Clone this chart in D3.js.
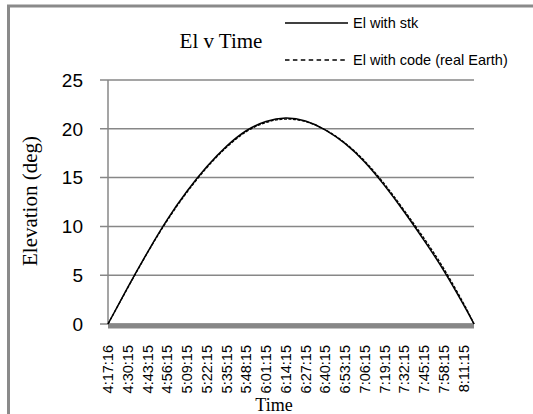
<!DOCTYPE html>
<html>
<head>
<meta charset="utf-8">
<script src="https://cdn.jsdelivr.net/npm/d3@7"></script>
<style>
  html, body { margin: 0; padding: 0; background: #fff; }
  svg { display: block; }
</style>
</head>
<body>
<svg id="chart" width="533" height="414"></svg>
<script>
// category labels shown on the time axis (every 13th sample)
const tickLabels = ['4:17:16','4:30:15','4:43:15','4:56:15','5:09:15','5:22:15','5:35:15','5:48:15',
  '6:01:15','6:14:15','6:27:15','6:40:15','6:53:15','7:06:15','7:19:15','7:32:15','7:45:15','7:58:15','8:11:15'];
// sample times (minutes after 4:17:16)
const sampleMin = [0, 13, 26, 39, 52, 65, 78, 91, 104, 117, 130, 143, 156, 169, 182, 195, 208, 221, 234, 241];
const elStk  = [0, 3.75, 7.35, 10.7, 13.6, 16.1, 18.2, 19.8, 20.75, 21.1, 20.8, 19.9, 18.5, 16.6, 14.2, 11.5, 8.6, 5.5, 2.0, 0];
const elCode = [0, 3.7, 7.3, 10.6, 13.5, 16.0, 18.1, 19.7, 20.65, 21.0, 20.75, 19.9, 18.55, 16.7, 14.35, 11.65, 8.8, 5.7, 2.15, 0];
const yTicks = [0, 5, 10, 15, 20, 25];
const nSamples = 242;

const svg = d3.select('#chart');
const margin = { left: 108, right: 59, top: 80, bottom: 90 };
const W = 533, H = 414;

// outer chart frame (runs off the right and bottom edge)
svg.append('rect').attr('x', 8.5).attr('y', 6).attr('width', 540).attr('height', 420)
  .attr('fill', 'none').attr('stroke', '#8a8a8a').attr('stroke-width', 3);

const x = d3.scaleLinear().domain([0, nSamples - 1]).range([margin.left, W - margin.right]);
const y = d3.scaleLinear().domain([0, 25]).range([H - margin.bottom, margin.top]);

// gridlines + y ticks
svg.append('g').selectAll('line').data(yTicks).join('line')
  .attr('x1', margin.left - 8).attr('x2', W - margin.right)
  .attr('y1', d => y(d)).attr('y2', d => y(d))
  .attr('stroke', '#878787').attr('stroke-width', 1.5);

// y axis line
svg.append('line').attr('x1', margin.left).attr('x2', margin.left)
  .attr('y1', y(25)).attr('y2', y(0))
  .attr('stroke', '#878787').attr('stroke-width', 1.5);

svg.append('g').selectAll('text').data(yTicks).join('text')
  .attr('x', 83).attr('y', d => y(d)).attr('dy', '0.36em')
  .attr('text-anchor', 'end')
  .style('font-family', 'Liberation Sans, Arial, sans-serif').style('font-size', '19px')
  .attr('fill', '#000').text(d => d);

// thick horizontal axis band
svg.append('line').attr('x1', margin.left).attr('x2', W - margin.right)
  .attr('y1', y(0) + 2).attr('y2', y(0) + 2)
  .attr('stroke', '#878787').attr('stroke-width', 5);

// x tick labels (rotated)
svg.append('g').selectAll('text').data(tickLabels).join('text')
  .attr('transform', (d, i) => `translate(${x(i * 13)},345) rotate(-90)`)
  .attr('text-anchor', 'end').attr('dy', '0.36em')
  .style('font-family', 'Liberation Sans, Arial, sans-serif').style('font-size', '14.5px')
  .attr('fill', '#000').text(d => d);

// series lines
const line = d3.line().x((d, i) => x(sampleMin[i])).y(d => y(d)).curve(d3.curveNatural);
svg.append('path').datum(elStk).attr('d', line)
  .attr('fill', 'none').attr('stroke', '#000').attr('stroke-width', 1.5);
svg.append('path').datum(elCode).attr('d', line)
  .attr('fill', 'none').attr('stroke', '#000').attr('stroke-width', 1.3)
  .attr('stroke-dasharray', '3,1.5');

// title and axis titles
const serif = 'Liberation Serif, Times New Roman, serif';
svg.append('text').attr('x', 221).attr('y', 48).attr('text-anchor', 'middle')
  .style('font-family', serif).style('font-size', '21px').text('El v Time');
svg.append('text').attr('x', 274).attr('y', 411).attr('text-anchor', 'middle')
  .style('font-family', serif).style('font-size', '18px').text('Time');
svg.append('text').attr('transform', 'translate(37,201) rotate(-90)').attr('text-anchor', 'middle')
  .style('font-family', serif).style('font-size', '21px').text('Elevation (deg)');

// legend
const legend = [
  { name: 'El with stk', dash: null, y: 23 },
  { name: 'El with code (real Earth)', dash: '4.5,3.4', y: 60 }
];
const lg = svg.append('g');
legend.forEach(l => {
  lg.append('line').attr('x1', 285).attr('x2', 348).attr('y1', l.y).attr('y2', l.y)
    .attr('stroke', '#000').attr('stroke-width', 1.3).attr('stroke-dasharray', l.dash);
  lg.append('text').attr('x', 353).attr('y', l.y).attr('dy', '0.35em')
    .style('font-family', 'Liberation Sans, Arial, sans-serif').style('font-size', '14.5px')
    .text(l.name);
});
</script>
</body>
</html>
